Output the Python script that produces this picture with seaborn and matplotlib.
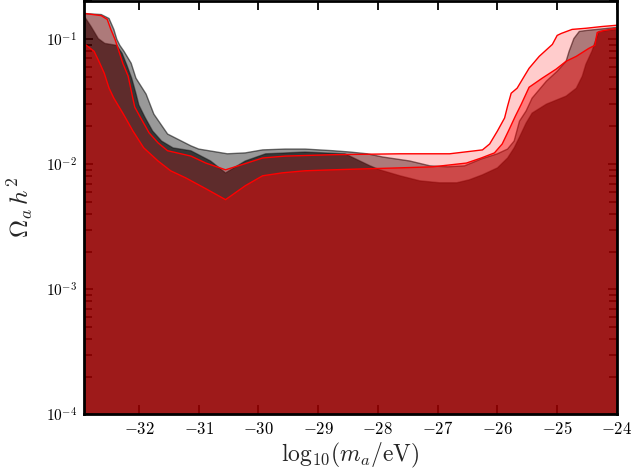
import numpy as np
import seaborn as sns
import matplotlib
matplotlib.use("Agg")
import matplotlib.pyplot as plt
from matplotlib.ticker import FuncFormatter, FixedLocator, LogLocator, NullFormatter

# grey contours (outer / inner)
gx_out = [-33.0, -32.90, -32.63, -32.50, -32.42, -32.37, -32.32, -32.25, -32.13, -32.05, -31.88, -31.75,
          -31.52, -31.13, -31.00, -30.52, -30.22, -29.93, -29.55, -29.22, -28.75, -28.47, -28.18,
          -27.92, -27.47, -27.13, -26.83, -26.55, -26.27, -26.00, -25.83, -25.72, -25.63, -25.52,
          -25.42, -25.18, -25.00, -24.85, -24.80, -24.75, -24.72, -24.63, -24.52, -24.0]
gy_out = [0.160, 0.160, 0.157, 0.146, 0.1195, 0.0995, 0.0891, 0.0798, 0.0641, 0.0487, 0.0363, 0.0251,
          0.0174, 0.0140, 0.0132, 0.0121, 0.0123, 0.0130, 0.0132, 0.0132, 0.0128, 0.0125, 0.0121,
          0.0114, 0.0106, 0.00969, 0.00952, 0.00969, 0.0110, 0.0121, 0.0132, 0.0153, 0.0221, 0.0266,
          0.0337, 0.0461, 0.0553, 0.0665, 0.0798, 0.0924, 0.101, 0.115, 0.117, 0.124]

gx_in = [-33.0, -32.90, -32.80, -32.68, -32.57, -32.37, -32.28, -32.20, -32.12, -32.05, -32.00, -31.90,
         -31.77, -31.62, -31.43, -31.13, -30.80, -30.55, -30.22, -29.88, -29.22, -28.55, -28.30,
         -28.13, -27.97, -27.63, -27.30, -26.97, -26.68, -26.47, -26.25, -26.00, -25.83, -25.72,
         -25.63, -25.52, -25.42, -25.18, -24.85, -24.68, -24.58, -24.52, -24.42, -24.35, -24.30, -24.0]
gy_in = [0.149, 0.149, 0.126, 0.101, 0.0924, 0.0891, 0.0769, 0.0617, 0.0487, 0.0369, 0.0297, 0.0238,
         0.0184, 0.0153, 0.0135, 0.0128, 0.0106, 0.00852, 0.0106, 0.0121, 0.0125, 0.0121, 0.0106,
         0.00969, 0.00901, 0.00807, 0.00736, 0.00710, 0.00710, 0.00750, 0.00822, 0.00934, 0.0112, 0.0135,
         0.0165, 0.0213, 0.0256, 0.0302, 0.0350, 0.0405, 0.0505, 0.0629, 0.0798, 0.0995, 0.115, 0.1195]

# red contours (outer / inner)
rx_out = [-33.0, -32.90, -32.63, -32.53, -32.47, -32.40, -32.35, -32.27, -32.18, -32.12, -32.07, -31.97,
          -31.83, -31.68, -31.52, -31.13, -30.88, -30.55, -30.22, -29.93, -29.55, -28.75, -27.63,
          -26.80, -26.25, -26.13, -26.00, -25.88, -25.83, -25.77, -25.67, -25.55, -25.47, -25.30,
          -25.08, -25.00, -24.93, -24.75, -24.52, -24.25, -24.0]
ry_out = [0.160, 0.160, 0.154, 0.1435, 0.1195, 0.0995, 0.0843, 0.0641, 0.0505, 0.0369, 0.0286, 0.0234,
          0.0178, 0.0148, 0.0128, 0.0116, 0.0102, 0.00901, 0.0101, 0.0112, 0.0116, 0.0119, 0.0121,
          0.0121, 0.0130, 0.0145, 0.0184, 0.0234, 0.0291, 0.0369, 0.0405, 0.0505, 0.0584, 0.0728,
          0.0907, 0.107, 0.111, 0.1195, 0.122, 0.126, 0.129]

rx_in = [-33.0, -32.90, -32.75, -32.67, -32.58, -32.50, -32.42, -32.27, -32.10, -31.92, -31.68, -31.47,
         -31.22, -30.88, -30.55, -30.22, -29.93, -29.60, -29.22, -28.75, -28.18, -27.63, -27.08,
         -26.52, -26.27, -26.05, -25.92, -25.80, -25.70, -25.60, -25.47, -25.25, -25.02, -24.85,
         -24.68, -24.47, -24.37, -24.33, -24.22, -24.0]
ry_in = [0.0907, 0.0907, 0.0798, 0.0665, 0.0533, 0.0405, 0.0337, 0.0256, 0.0184, 0.0135, 0.0106, 0.00885,
         0.00778, 0.00636, 0.00520, 0.00672, 0.00807, 0.00852, 0.00885, 0.00901, 0.00918, 0.00934, 0.00952,
         0.0102, 0.0112, 0.0123, 0.0145, 0.0191, 0.0242, 0.0302, 0.0412, 0.0487, 0.0574, 0.0665,
         0.0728, 0.0843, 0.0891, 0.113, 0.117, 0.122]

x_ticks = [-32, -31, -30, -29, -28, -27, -26, -25, -24]
y_ticks = [1e-4, 1e-3, 1e-2, 1e-1]

sns.set_style("ticks")
plt.rcParams["mathtext.fontset"] = "cm"
plt.rcParams["font.family"] = ["DejaVu Serif"]

fig = plt.figure(figsize=(6.36, 4.74), dpi=100)
ax = fig.add_axes([0.132, 0.126, 0.838, 0.871])

floor = 1e-6
ax.fill_between(gx_out, floor, gy_out, facecolor=(0, 0, 0, 0.4), edgecolor=(0, 0, 0, 0.55), lw=1)
ax.fill_between(gx_in, floor, gy_in, facecolor=(0, 0, 0, 0.64), edgecolor=(0, 0, 0, 0.4), lw=1)
ax.fill_between(rx_out, floor, ry_out, facecolor=(1, 0, 0, 0.2), edgecolor="none")
ax.fill_between(rx_in, floor, ry_in, facecolor=(1, 0, 0, 0.4), edgecolor="none")
sns.lineplot(x=rx_out, y=ry_out, ax=ax, color="red", lw=1, sort=False)
sns.lineplot(x=rx_in, y=ry_in, ax=ax, color="red", lw=1, sort=False)

ax.set_yscale("log")
ax.set_xlim(-32.92, -24)
ax.set_ylim(1e-4, 0.2)

ax.xaxis.set_major_locator(FixedLocator(x_ticks))
ax.xaxis.set_major_formatter(FuncFormatter(lambda v, p: r"$%d$" % round(v)))
ax.yaxis.set_major_locator(FixedLocator(y_ticks))
ax.yaxis.set_major_formatter(FuncFormatter(lambda v, p: r"$10^{%d}$" % round(np.log10(v))))
ax.yaxis.set_minor_locator(LogLocator(base=10, subs=np.arange(2, 10), numticks=20))
ax.yaxis.set_minor_formatter(NullFormatter())

ax.tick_params(which="both", direction="in", top=True, right=True, width=1.3, colors="black")
ax.tick_params(which="major", length=6.5, labelsize=12, pad=5)
ax.tick_params(which="minor", length=6)
ax.tick_params(axis="y", which="major", labelsize=11)
for s in ax.spines.values():
    s.set_linewidth(2)
    s.set_color("black")

ax.set_xlabel(r"${\rm log}_{10}(m_a/{\rm eV})$", fontsize=17, labelpad=2)
ax.set_ylabel(r"$\Omega_a\, h^2$", fontsize=18, labelpad=8)

fig.savefig("out.png", dpi=100)
